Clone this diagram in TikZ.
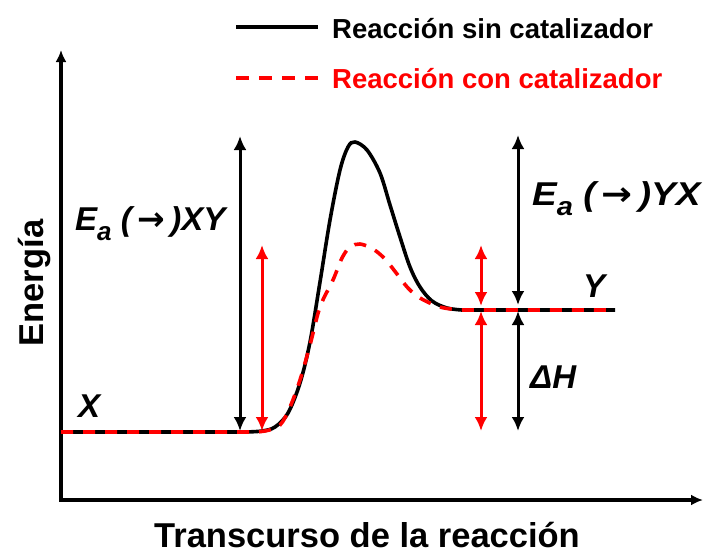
\documentclass[tikz,border=0pt]{standalone}
\usepackage{fontspec}
\usepackage{graphicx}
\setmainfont{Liberation Sans}
\newfontfamily\arrowfont{DejaVu Sans}
\usetikzlibrary{arrows.meta}
\newcommand\myEa{\textit{E}\raisebox{-0.32em}{\fontsize{26}{28}\selectfont\textit{a}}}
\begin{document}
\begin{tikzpicture}[x=1pt,y=-1pt,
  axisline/.style={line width=3.8pt, {Latex[length=12pt,width=11pt]}-{Latex[length=12pt,width=11pt]}},
  curvesin/.style={line width=3.6pt, black},
  curvecon/.style={line width=3.6pt, red, dash pattern=on 12pt off 10pt},
  dimarrow/.style={line width=3pt, {Latex[length=14pt,width=13pt]}-{Latex[length=14pt,width=13pt]}},
  lbl/.style={font=\fontsize{33}{36}\selectfont\bfseries\itshape, inner sep=0pt},
  legtxt/.style={font=\fontsize{27.5}{30}\selectfont\bfseries, inner sep=0pt, anchor=base west},
  axtxt/.style={font=\fontsize{34.5}{38}\selectfont\bfseries, inner sep=0pt}
]
\useasboundingbox (0,0) rectangle (705,554);

% axes
\coordinate (ytop) at (61,50);
\coordinate (origin) at (61,500);
\coordinate (xend) at (703,500);
\draw[axisline] (ytop) -- (origin) -- (xend);

% curves
\draw[curvesin] (61,432) -- plot[smooth, tension=0.55] coordinates {
 (245,432) (262,431) (275,427) (288,413) (300,383) (310,342) (320,282)
 (330,220) (340,170) (348,147) (355,142) (367,150) (380,173) (390,205)
 (400,237) (410,267) (420,287) (432,301) (447,308) (462,310)} -- (615,310);
\draw[curvecon] (61,432) -- plot[smooth, tension=0.55] coordinates {
 (250,432) (265,431) (280,425) (290,407) (300,380) (310,345) (320,307)
 (333,280) (342,258) (350,247) (360,244) (373,249) (385,259) (397,274)
 (408,288) (420,298) (440,307) (460,310)} -- (615,310);

% dimension arrows
\coordinate (a1t) at (240,136);
\coordinate (a1b) at (240,431);
\coordinate (a2t) at (262,245);
\coordinate (a2b) at (262,431);
\coordinate (a3t) at (481,245);
\coordinate (a3b) at (481,306);
\coordinate (a4t) at (518,135);
\coordinate (a4b) at (518,305);
\coordinate (a5t) at (481,311);
\coordinate (a5b) at (481,431);
\coordinate (a6t) at (518,311);
\coordinate (a6b) at (518,431);
\draw[dimarrow, black] (a1t) -- (a1b);
\draw[dimarrow, red] (a2t) -- (a2b);
\draw[dimarrow, red] (a3t) -- (a3b);
\draw[dimarrow, black] (a4t) -- (a4b);
\draw[dimarrow, red] (a5t) -- (a5b);
\draw[dimarrow, black] (a6t) -- (a6b);

% labels
\node[lbl, anchor=base west] (eaxy) at (75,230) {\myEa\ (\,{\arrowfont →}\,)XY};
\node[lbl, anchor=base west] (eayx) at (532,205) {\scalebox{1.12}[1]{\myEa\ (\,{\arrowfont →}\,)YX}};
\node[lbl, anchor=base west] (labx) at (78,417) {X};
\node[lbl, anchor=base west] (laby) at (583,297) {Y};
\node[lbl, anchor=base west] (labdh) at (530,388) {ΔH};

% axis titles
\node[axtxt, rotate=90, anchor=base] (energia) at (43,283) {Energía};
\node[axtxt, anchor=base] (transc) at (367,547) {Transcurso de la reacción};

% legend
\coordinate (l1a) at (236,27);
\coordinate (l1b) at (318,27);
\coordinate (l2a) at (236,78);
\coordinate (l2b) at (318,78);
\draw[curvesin] (l1a) -- (l1b);
\draw[curvecon, dash pattern=on 13pt off 10pt] (l2a) -- (l2b);
\node[legtxt] (leg1) at (332,38) {Reacción sin catalizador};
\node[legtxt, text=red] (leg2) at (332,88) {Reacción con catalizador};
\end{tikzpicture}
\end{document}
